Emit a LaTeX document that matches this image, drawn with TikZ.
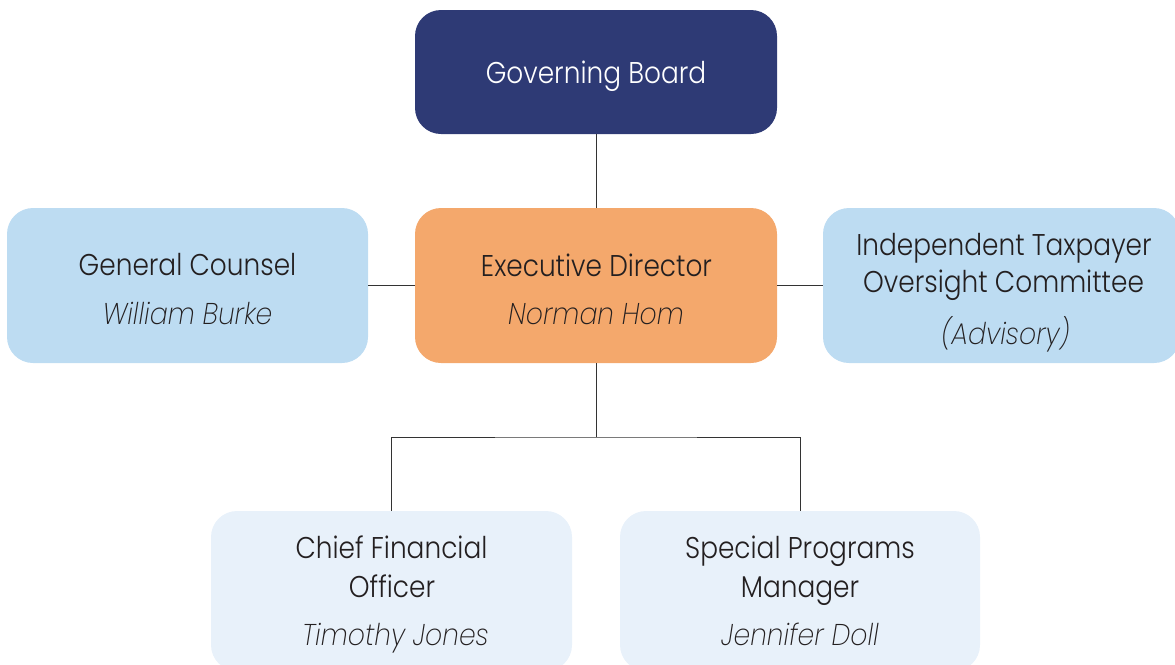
\documentclass[tikz,border=0pt]{standalone}
\usepackage{fontspec}
\setmainfont{Poppins}[UprightFont=* Light, ItalicFont=* ExtraLight Italic]
\definecolor{navy}{HTML}{2E3A75}
\definecolor{orangebox}{HTML}{F4A86C}
\definecolor{bluebox}{HTML}{BDDCF2}
\definecolor{palebox}{HTML}{E8F1FA}
\definecolor{ink}{HTML}{231F20}
\definecolor{linec}{HTML}{333333}
\tikzset{
  orgbox/.style={rectangle, rounded corners=26pt, draw=none, inner sep=0pt},
  roletext/.style={font=\fontsize{30}{32}\selectfont, text=ink, inner sep=0pt, anchor=base, xscale=0.88, transform shape},
  persontext/.style={font=\fontsize{30}{32}\selectfont\itshape, text=ink, inner sep=0pt, anchor=base, xscale=0.89, transform shape},
  conn/.style={draw=linec, line width=1pt}
}
\begin{document}
\begin{tikzpicture}[x=1pt,y=-1pt]
\useasboundingbox (0,0) rectangle (1175,664);
\clip (0,0) rectangle (1175,664);
\node[orgbox, fill=navy, minimum width=362pt, minimum height=124pt] (gb) at (596,72) {};
\node[orgbox, fill=bluebox, minimum width=361pt, minimum height=155pt] (gc) at (187.5,285.5) {};
\node[orgbox, fill=orangebox, minimum width=362pt, minimum height=155pt] (ed) at (596,285.5) {};
\node[orgbox, fill=bluebox, minimum width=357pt, minimum height=155pt] (itoc) at (1001.5,285.5) {};
\node[orgbox, fill=palebox, minimum width=361pt, minimum height=160pt] (cfo) at (391.5,591) {};
\node[orgbox, fill=palebox, minimum width=360pt, minimum height=160pt] (spm) at (800,591) {};
\coordinate (split) at (596,437);
\draw[conn] (gb.south) -- (ed.north);
\draw[conn] (gc.east) -- (ed.west);
\draw[conn] (ed.east) -- (itoc.west);
\draw[conn] (ed.south) -- (split);
\draw[conn] (cfo.north) |- (split) -| (spm.north);
\node[roletext, text=white] (gbt) at (596,83.5) {Governing Board};
\node[roletext] (gct) at (187.5,275.5) {General Counsel};
\node[persontext] (gcn) at (187.5,324) {William Burke};
\node[roletext] (edt) at (596.5,276) {Executive Director};
\node[persontext] (edn) at (596,324) {Norman Hom};
\node[roletext] (itt1) at (1004,255) {Independent Taxpayer};
\node[roletext] (itt2) at (1003.5,292.5) {Oversight Committee};
\node[persontext] (itn) at (1005.5,344) {(Advisory)};
\node[roletext] (cft1) at (391.5,558) {Chief Financial};
\node[roletext] (cft2) at (392,597) {Officer};
\node[persontext] (cfn) at (395.5,645.5) {Timothy Jones};
\node[roletext] (spt1) at (800,558) {Special Programs};
\node[roletext] (spt2) at (800,597) {Manager};
\node[persontext] (spn) at (800,645.5) {Jennifer Doll};
\end{tikzpicture}
\end{document}
